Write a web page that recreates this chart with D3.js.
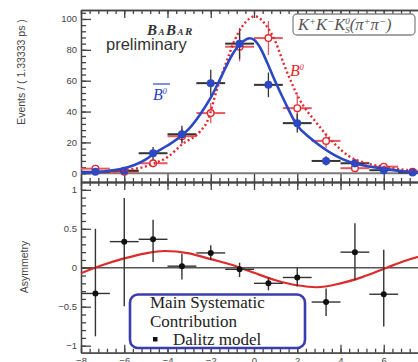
<!DOCTYPE html>
<html>
<head>
<meta charset="utf-8">
<script src="https://cdn.jsdelivr.net/npm/d3@7"></script>
<style>
  body { margin: 0; background: #fff; }
  svg { display: block; }
  .tick text { font-family: "Liberation Sans", Arial, sans-serif; font-size: 9.5px; fill: #444; }
  .axis path, .axis line { stroke: #444; stroke-width: 1.3; }
</style>
</head>
<body>
<svg width="418" height="362"></svg>
<script>
// bins of 1.33333 ps
let binCenters = [-7.333, -6, -4.667, -3.333, -2, -0.667, 0.667, 2, 3.333, 4.667, 6, 7.333];
let binHalf = 0.667;

let bbarVals = [1, 1.7, 13, 25.3, 58.4, 84, 57.3, 32.5, 8, 6.5, 2, 0.5];
let bbarErr = [1, 1.3, 4, 5.5, 8.7, 10, 8, 6, 3, 2.6, 1.5, 0.8];
let b0Vals = [3, 1, 6.5, 24, 39, 82, 87.6, 42.2, 21, 3.3, 4.3, 1];
let b0Err = [1.7, 1, 2.6, 5, 6.5, 9.5, 11, 8.6, 4.6, 1.8, 2, 1];

// fitted curves
let bbarFitT = [-8, -7, -6, -5.5, -5, -4.6, -4, -3.3, -3, -2.5, -2, -1.5, -1, -0.5, -0.2, 0, 0.3, 0.6, 1, 1.4, 2, 2.5, 2.9, 3.7, 4.4, 5.2, 6, 7, 8];
let bbarFitV = [0.3, 1.1, 3.2, 5.5, 9, 13, 18, 25, 29, 38, 49, 63, 77, 85.5, 87.5, 86.5, 81, 72, 59, 47, 31, 24, 19.5, 12, 7.5, 4.7, 3, 1.2, 0.4];
let b0FitT = [-8, -7, -6, -5, -4.6, -4, -3.3, -2.5, -2.15, -1.7, -1.2, -0.9, -0.5, 0.05, 0.6, 1, 1.4, 2.1, 2.9, 3.7, 4.4, 5.2, 6, 7, 8];
let b0FitV = [0.2, 0.6, 2, 4.5, 6.5, 10.5, 19, 27, 34, 55, 75, 86, 96, 101.7, 95, 85, 70, 48, 32.5, 19.5, 11, 6.5, 4.3, 2.2, 1];

let asymT = [-7.333, -6, -4.667, -3.333, -2, -0.667, 0.667, 2, 3.333, 4.667, 6];
let asymVals = [-0.33, 0.335, 0.365, 0.02, 0.19, -0.02, -0.2, -0.125, -0.44, 0.2, -0.34];
let asymErrUp = [0.83, 0.56, 0.25, 0.16, 0.1, 0.085, 0.075, 0.125, 0.175, 0.37, 0.57];
let asymErrDown = [0.55, 0.83, 0.29, 0.17, 0.09, 0.1, 0.09, 0.115, 0.18, 0.36, 0.415];

let asymFitT = [-8, -7, -6, -5, -4.15, -3, -2, -1, 0, 1, 2, 2.9, 4, 5, 6.13, 7, 8];
let asymFitV = [-0.07, 0.035, 0.12, 0.185, 0.215, 0.185, 0.11, 0.035, -0.065, -0.16, -0.225, -0.25, -0.2, -0.12, 0, 0.09, 0.17];

let topTicks = [0, 20, 40, 60, 80, 100];
let asymTicks = [-1, -0.5, 0, 0.5, 1];
let tTicks = [-8, -6, -4, -2, 0, 2, 4, 6, 8];

let svg = d3.select('svg');
let blue = '#2c48c4', red = '#e32630';

let x = d3.scaleLinear().domain([-8, 8]).range([81, 427]);
let yTop = d3.scaleLinear().domain([-5.64, 105.8]).range([182, 10]);
let yBot = d3.scaleLinear().domain([-1.09, 1.1]).range([352.7, 182]);

let minorT = d3.range(-8, 8.01, 0.4);

function frameAxes(y, majors, minors, yTopPx, yBotPx, showT) {
  svg.append('g').attr('class', 'axis').attr('transform', `translate(${x.range()[0]},0)`)
    .call(d3.axisLeft(y).tickValues(minors).tickSize(-5).tickSizeOuter(0).tickFormat(''));
  svg.append('g').attr('class', 'axis').attr('transform', `translate(${x.range()[0]},0)`)
    .call(d3.axisLeft(y).tickValues(majors).tickSize(-10).tickSizeOuter(0).tickPadding(4)
      .tickFormat(d3.format('')));
  [[d3.axisTop, yTopPx], [d3.axisBottom, yBotPx]].forEach(([ax, py]) => {
    svg.append('g').attr('class', 'axis').attr('transform', `translate(0,${py})`)
      .call(ax(x).tickValues(minorT).tickSize(-4).tickSizeOuter(0).tickFormat(''));
    let g = svg.append('g').attr('class', 'axis').attr('transform', `translate(0,${py})`)
      .call(ax(x).tickValues(tTicks).tickSize(-8).tickSizeOuter(0).tickPadding(5));
    if (!(showT && ax === d3.axisBottom)) g.selectAll('text').remove();
  });
}

// ---- top panel
svg.append('line')
  .attr('x1', x(-8)).attr('x2', x(8)).attr('y1', yTop(0)).attr('y2', yTop(0))
  .attr('stroke', '#7a7a7a').attr('stroke-width', 2);

frameAxes(yTop, topTicks, d3.range(0, 105, 4), 10, 182, false);

let line = (yy) => d3.line().x(d => x(d[0])).y(d => yy(d[1])).curve(d3.curveMonotoneX);

function points(vals, errs, barColor, fill, stroke) {
  let g = svg.append('g');
  vals.forEach((v, i) => {
    let t = binCenters[i];
    g.append('line').attr('x1', x(t - binHalf)).attr('x2', x(t + binHalf))
      .attr('y1', yTop(v)).attr('y2', yTop(v)).attr('stroke', barColor).attr('stroke-width', 2);
    g.append('line').attr('x1', x(t)).attr('x2', x(t))
      .attr('y1', yTop(v - errs[i])).attr('y2', yTop(v + errs[i])).attr('stroke', barColor).attr('stroke-width', 1.3);
    g.append('circle').attr('cx', x(t)).attr('cy', yTop(v)).attr('r', 3.3)
      .attr('fill', fill).attr('stroke', stroke).attr('stroke-width', 1.4);
  });
}

points(b0Vals, b0Err, '#e4575c', '#fff', red);
points(bbarVals, bbarErr, '#333', blue, blue);

svg.append('path').datum(d3.zip(b0FitT, b0FitV)).attr('d', line(yTop))
  .attr('fill', 'none').attr('stroke', red).attr('stroke-width', 2.4).attr('stroke-dasharray', '2,2.6');
svg.append('path').datum(d3.zip(bbarFitT, bbarFitV)).attr('d', line(yTop))
  .attr('fill', 'none').attr('stroke', blue).attr('stroke-width', 2.6);

// labels
let babar = svg.append('text').attr('x', 147).attr('y', 35).attr('letter-spacing', 1.5)
  .attr('font-family', '"Liberation Serif", serif').attr('font-style', 'italic').attr('font-weight', 'bold').attr('fill', '#333');
[['B', 15], ['A', 9], ['B', 15], ['A', 9], ['R', 11]].forEach(([c, s]) => babar.append('tspan').attr('font-size', s).text(c));

svg.append('text').attr('x', 106).attr('y', 50).text('preliminary')
  .attr('font-family', '"Liberation Sans", Arial, sans-serif').attr('font-size', 16.5).attr('fill', '#333');

let bb = svg.append('text').attr('x', 153).attr('y', 100)
  .attr('font-family', '"Liberation Serif", serif').attr('font-style', 'italic').attr('fill', blue).attr('font-size', 16);
bb.append('tspan').text('B');
bb.append('tspan').attr('font-size', 8).attr('dy', -6).text('0');
svg.append('line').attr('x1', 153).attr('x2', 170).attr('y1', 84).attr('y2', 84).attr('stroke', blue).attr('stroke-width', 1.2);

let b0 = svg.append('text').attr('x', 290).attr('y', 76)
  .attr('font-family', '"Liberation Serif", serif').attr('font-style', 'italic').attr('fill', red).attr('font-size', 16);
b0.append('tspan').text('B');
b0.append('tspan').attr('font-size', 8).attr('dy', -6).text('0');

svg.append('rect').attr('x', 293).attr('y', 14).attr('width', 122).attr('height', 21).attr('rx', 4)
  .attr('fill', '#fff').attr('stroke', '#888').attr('stroke-width', 1.3);
let mode = svg.append('text').attr('x', 298).attr('y', 30)
  .attr('font-family', '"Liberation Serif", serif').attr('font-style', 'italic').attr('fill', '#555').attr('font-size', 16.5);
mode.append('tspan').text('K');
mode.append('tspan').attr('font-size', 10.5).attr('dy', -5).text('+');
mode.append('tspan').attr('dy', 5).text('K');
mode.append('tspan').attr('font-size', 10.5).attr('dy', -5).text('−');
mode.append('tspan').attr('dy', 5).text('K');
mode.append('tspan').attr('font-size', 9).attr('dy', -6).text('0');
mode.append('tspan').attr('font-size', 9).attr('dx', -4.5).attr('dy', 9).text('S');
mode.append('tspan').attr('dy', -3).text('(π');
mode.append('tspan').attr('font-size', 10.5).attr('dy', -5).text('+');
mode.append('tspan').attr('dy', 5).text('π');
mode.append('tspan').attr('font-size', 10.5).attr('dy', -5).text('−');
mode.append('tspan').attr('dy', 5).text(')');

svg.append('text').attr('transform', 'translate(25,72) rotate(-90)').attr('text-anchor', 'middle')
  .attr('font-family', '"Liberation Sans", Arial, sans-serif').attr('font-size', 10.5).attr('fill', '#444')
  .text('Events / ( 1.33333 ps )');

// ---- asymmetry panel
svg.append('line')
  .attr('x1', x(-8)).attr('x2', x(8)).attr('y1', yBot(0)).attr('y2', yBot(0))
  .attr('stroke', '#555').attr('stroke-width', 1.5);

frameAxes(yBot, asymTicks, d3.range(-1, 1.05, 0.1).map(d => +d.toFixed(1)), 182, 352.7, true);

svg.append('path').datum(d3.zip(asymFitT, asymFitV)).attr('d', line(yBot))
  .attr('fill', 'none').attr('stroke', '#dd2a2a').attr('stroke-width', 2.2);

let ag = svg.append('g');
asymVals.forEach((v, i) => {
  let t = asymT[i];
  ag.append('line').attr('x1', x(t - binHalf)).attr('x2', x(t + binHalf))
    .attr('y1', yBot(v)).attr('y2', yBot(v)).attr('stroke', '#333').attr('stroke-width', 1.4);
  ag.append('line').attr('x1', x(t)).attr('x2', x(t))
    .attr('y1', yBot(v - asymErrDown[i])).attr('y2', yBot(v + asymErrUp[i])).attr('stroke', '#333').attr('stroke-width', 1.4);
  ag.append('circle').attr('cx', x(t)).attr('cy', yBot(v)).attr('r', 3).attr('fill', '#111');
});

svg.append('text').attr('transform', 'translate(28,267) rotate(-90)').attr('text-anchor', 'middle')
  .attr('font-family', '"Liberation Sans", Arial, sans-serif').attr('font-size', 10.5).attr('fill', '#444')
  .text('Asymmetry');

// systematic box
svg.append('rect').attr('x', 130).attr('y', 294.5).attr('width', 175).attr('height', 53.5).attr('rx', 8)
  .attr('fill', '#fff').attr('stroke', '#3b3cae').attr('stroke-width', 2.6);
let serif = '"Liberation Serif", "Times New Roman", serif';
[['Main Systematic', 150, 308], ['Contribution', 150, 326.5], ['Dalitz model', 173, 345]].forEach(([s, tx, ty]) => {
  svg.append('text').attr('x', tx).attr('y', ty).text(s)
    .attr('font-family', serif).attr('font-size', 17).attr('fill', '#222');
});
svg.append('rect').attr('x', 153).attr('y', 337).attr('width', 4.5).attr('height', 4.5).attr('fill', '#111');
</script>
</body>
</html>
